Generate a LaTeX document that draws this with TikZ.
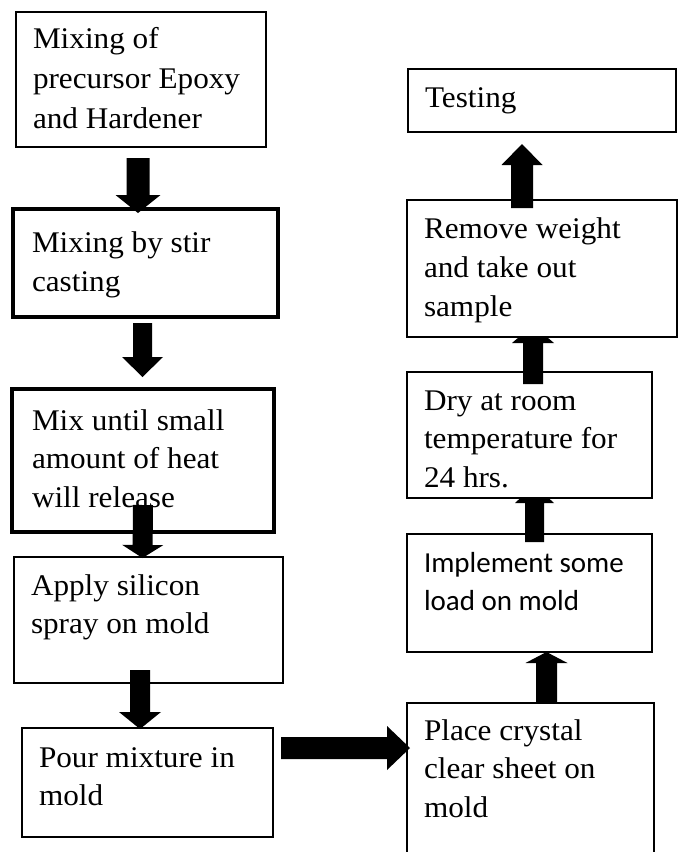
\documentclass[tikz,border=0pt]{standalone}
\usepackage{fontspec}
\setmainfont{Liberation Serif}[FakeStretch=1.04]
\newfontfamily\calib{Carlito}
\usetikzlibrary{calc}

% a text block whose baseline is that of its first line
\newcommand\stack[2]{\parbox[t]{260pt}{\raggedright\baselineskip=#1pt #2}}

% filled block arrow: tail, tip, half shaft width, half head width, head length
\newcommand\fatarrow[5]{%
  \path #1 coordinate (fatail) #2 coordinate (fatip);
  \path ($(fatip)!#5!(fatail)$) coordinate (fabase);
  \fill[arrowfill] ($(fatail)!#3!90:(fatip)$) -- ($(fabase)!#3!90:(fatip)$)
    -- ($(fabase)!#4!90:(fatip)$) -- (fatip) -- ($(fabase)!#4!-90:(fatip)$)
    -- ($(fabase)!#3!-90:(fatip)$) -- ($(fatail)!#3!-90:(fatip)$) -- cycle;}

\tikzset{
  stepshape/.style={rectangle, inner sep=0pt, outer sep=0pt, anchor=north west},
  frame/.style={draw=black, fill=white, line width=2.2pt},
  heavyframe/.style={draw=black, fill=white, line width=4.5pt},
  txt/.style={anchor=base west, inner sep=0pt, outer sep=0pt,
    font=\fontsize{30}{38}\selectfont},
  sanstxt/.style={txt, font=\calib\fontsize{29}{38}\selectfont},
  arrowfill/.style={fill=black}
}

\begin{document}
\begin{tikzpicture}[x=1pt, y=-1pt]
\useasboundingbox (0,0) rectangle (681,852);
\clip (0,0) rectangle (681,852);
\fill[white] (0,0) rectangle (681,852);

% geometry of the process boxes
\path node[stepshape, minimum width=250pt, minimum height=135pt] (b1) at (16,12) {};
\path node[stepshape, minimum width=265pt, minimum height=108pt] (b2) at (13,209) {};
\path node[stepshape, minimum width=262pt, minimum height=143pt] (b3) at (12,389) {};
\path node[stepshape, minimum width=269pt, minimum height=126pt] (b4) at (14,557) {};
\path node[stepshape, minimum width=251pt, minimum height=109pt] (b5) at (22,728) {};
\path node[stepshape, minimum width=247pt, minimum height=167pt] (b6) at (407,703) {};
\path node[stepshape, minimum width=245pt, minimum height=118pt] (b7) at (407,534) {};
\path node[stepshape, minimum width=245pt, minimum height=126pt] (b8) at (407,372) {};
\path node[stepshape, minimum width=270pt, minimum height=137pt] (b9) at (407,200) {};
\path node[stepshape, minimum width=268pt, minimum height=63pt] (b10) at (408,69) {};

% left column, top to bottom
\draw[frame, line width=2pt] (b1.north west) rectangle (b1.south east);
\node[txt] (t1) at ($(b1.north west)+(17,36)$)
  {\stack{40}{Mixing of\\precursor Epoxy\\and Hardener}};

\draw[heavyframe] (b2.north west) rectangle (b2.south east);
\node[txt] (t2) at ($(b2.north west)+(19,43)$)
  {\stack{39}{Mixing by stir\\casting}};
\fatarrow{($(b1.south)+(-3,11)$)}{($(b2.north)+(-7.5,4)$)}{11.5pt}{22.5pt}{18pt}

\draw[heavyframe] (b3.north west) rectangle (b3.south east);
\node[txt] (t3) at ($(b3.north west)+(20,41)$)
  {\stack{38.5}{Mix until small\\amount of heat\\will release}};
\fatarrow{($(b2.south)+(-3,6)$)}{($(b3.north)+(-0.5,-12)$)}{9.5pt}{20.5pt}{20pt}

\draw[frame] (b4.north west) rectangle (b4.south east);
\node[txt] (t4) at ($(b4.north west)+(17,38)$)
  {\stack{38}{Apply silicon\\spray on mold}};
\fatarrow{($(b3.south)+(0,-27)$)}{($(b4.north)+(-6,1)$)}{10pt}{20.5pt}{13pt}

\draw[frame] (b5.north west) rectangle (b5.south east);
\node[txt] (t5) at ($(b5.north west)+(17,39)$)
  {\stack{38}{Pour mixture in\\mold}};
\fatarrow{($(b4.south)+(-8.5,-13)$)}{($(b5.north)+(-7.5,1)$)}{10pt}{21pt}{17pt}

% right column, bottom to top
\draw[frame] (b6.north west) rectangle (b6.south east);
\node[txt] (t6) at ($(b6.north west)+(17,37)$)
  {\stack{38.5}{Place crystal\\clear sheet on\\mold}};
\fatarrow{($(b5.east)+(8,-34.5)$)}{($(b6.north west)+(3,45)$)}{11pt}{22pt}{23pt}

\draw[frame] (b7.north west) rectangle (b7.south east);
\node[sanstxt] (t7) at ($(b7.north west)+(17,38)$)
  {\stack{38}{Implement some\\load on mold}};
\fatarrow{($(b6.north)+(16,0)$)}{($(b7.south)+(17,0)$)}{10.5pt}{21pt}{11pt}
\fatarrow{($(b7.north)+(5,8)$)}{($(b7.north)+(5,-49)$)}{9.5pt}{19.5pt}{18pt}

\draw[frame] (b8.north west) rectangle (b8.south east);
\node[txt] (t8) at ($(b8.north west)+(17,38)$)
  {\stack{38.5}{Dry at room\\temperature for\\24 hrs.}};
\fatarrow{($(b8.north)+(3.5,12)$)}{($(b8.north)+(3.5,-47)$)}{10pt}{21pt}{18pt}

\draw[frame] (b9.north west) rectangle (b9.south east);
\node[txt] (t9) at ($(b9.north west)+(17,38)$)
  {\stack{39}{Remove weight\\and take out\\sample}};
\fatarrow{($(b9.north)+(-20,8)$)}{($(b9.north)+(-20,-56)$)}{11pt}{20.5pt}{21pt}

\draw[frame] (b10.north west) rectangle (b10.south east);
\node[txt] (t10) at ($(b10.north west)+(17,38)$) {Testing};
\end{tikzpicture}
\end{document}
